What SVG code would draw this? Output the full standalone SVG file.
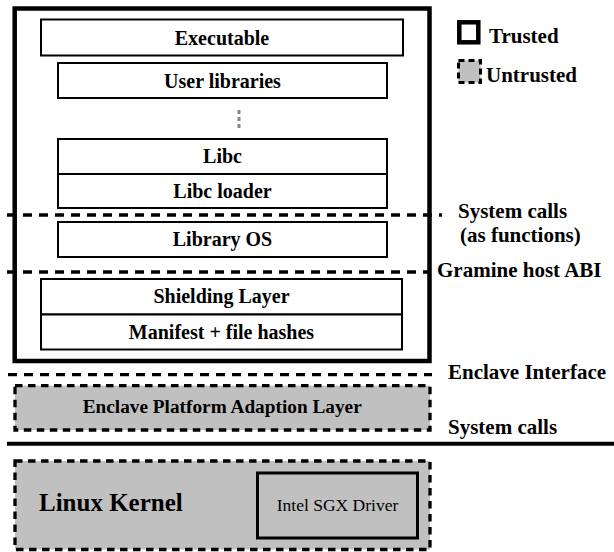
<svg xmlns="http://www.w3.org/2000/svg" width="614" height="552" viewBox="0 0 614 552">
<style>
text{font-family:"Liberation Serif",Times,"Times New Roman","DejaVu Serif","Noto Serif",serif}
.box{fill:#fff;stroke:#000;stroke-width:2}
.lbl{font-weight:bold;font-size:20px;text-anchor:middle;fill:#000}
.side{font-weight:bold;font-size:21px;fill:#000}
.dash{stroke:#000;stroke-width:3.3;stroke-dasharray:9 7;fill:none}
.ubox{fill:#c0c0c0;stroke:#000;stroke-width:3.3;stroke-dasharray:7.5 5.5}
</style>
<rect width="614" height="552" fill="#fff"/>
<g id="trusted-enclave">
<rect x="14.7" y="8.5" width="414.8" height="352.5" fill="#fff" stroke="#000" stroke-width="4.5"/>
</g>
<g id="executable"><rect class="box" x="41" y="19.5" width="362" height="36"/><text class="lbl" x="222" y="44.5">Executable</text></g>
<g id="user-libraries"><rect class="box" x="58" y="63" width="329" height="35"/><text class="lbl" x="222.5" y="87.5">User libraries</text></g>
<g id="ellipsis"><line x1="239" y1="110" x2="239" y2="128" stroke="#888" stroke-width="3" stroke-dasharray="4 3"/></g>
<g id="libc"><rect class="box" x="58" y="139" width="329" height="35"/><text class="lbl" x="222.5" y="163">Libc</text></g>
<g id="libc-loader"><rect class="box" x="58" y="174" width="329" height="34"/><text class="lbl" x="222.5" y="198">Libc loader</text></g>
<g id="library-os"><rect class="box" x="58" y="222" width="329" height="35"/><text class="lbl" x="222.5" y="246">Library OS</text></g>
<g id="shielding-layer"><rect class="box" x="41" y="279" width="361" height="35.5"/><text class="lbl" x="221.5" y="303">Shielding Layer</text></g>
<g id="manifest"><rect class="box" x="41" y="314.5" width="361" height="35"/><text class="lbl" x="221.5" y="339">Manifest + file hashes</text></g>
<g id="connectors">
<line class="dash" x1="7" y1="215" x2="442" y2="215"/>
<line class="dash" x1="7" y1="272" x2="430" y2="272"/>
<line class="dash" x1="8" y1="374.7" x2="432" y2="374.7"/>
<line x1="7" y1="443.7" x2="614" y2="443.7" stroke="#000" stroke-width="4"/>
</g>
<g id="epal"><rect class="ubox" x="15" y="385.7" width="415" height="44.3"/><text x="82.7" y="413.3" font-weight="bold" font-size="18" textLength="279" lengthAdjust="spacingAndGlyphs">Enclave Platform Adaption Layer</text></g>
<g id="linux-kernel"><rect class="ubox" x="15" y="461" width="415" height="88.5" stroke-width="3.5"/><text x="39" y="511" font-weight="bold" font-size="25">Linux Kernel</text></g>
<g id="sgx-driver"><rect x="257.5" y="473" width="160" height="65" fill="none" stroke="#000" stroke-width="3"/><text x="337.5" y="511" text-anchor="middle" font-size="17.5">Intel SGX Driver</text></g>
<g id="labels">
<text class="side" x="458" y="218">System calls</text>
<text class="side" x="460" y="242">(as functions)</text>
<text class="side" x="437" y="277">Gramine host ABI</text>
<text class="side" x="448" y="379">Enclave Interface</text>
<text class="side" x="448" y="434">System calls</text>
</g>
<g id="legend-trusted"><rect x="459.3" y="22.3" width="19" height="20" fill="#fff" stroke="#000" stroke-width="4.5"/><text class="side" x="489" y="43" style="font-size:21px">Trusted</text></g>
<g id="legend-untrusted"><rect x="458.5" y="60.5" width="22" height="22" fill="#c0c0c0" stroke="#000" stroke-width="3" stroke-dasharray="6 4"/><text class="side" x="486" y="82" style="font-size:21px">Untrusted</text></g>
</svg>
